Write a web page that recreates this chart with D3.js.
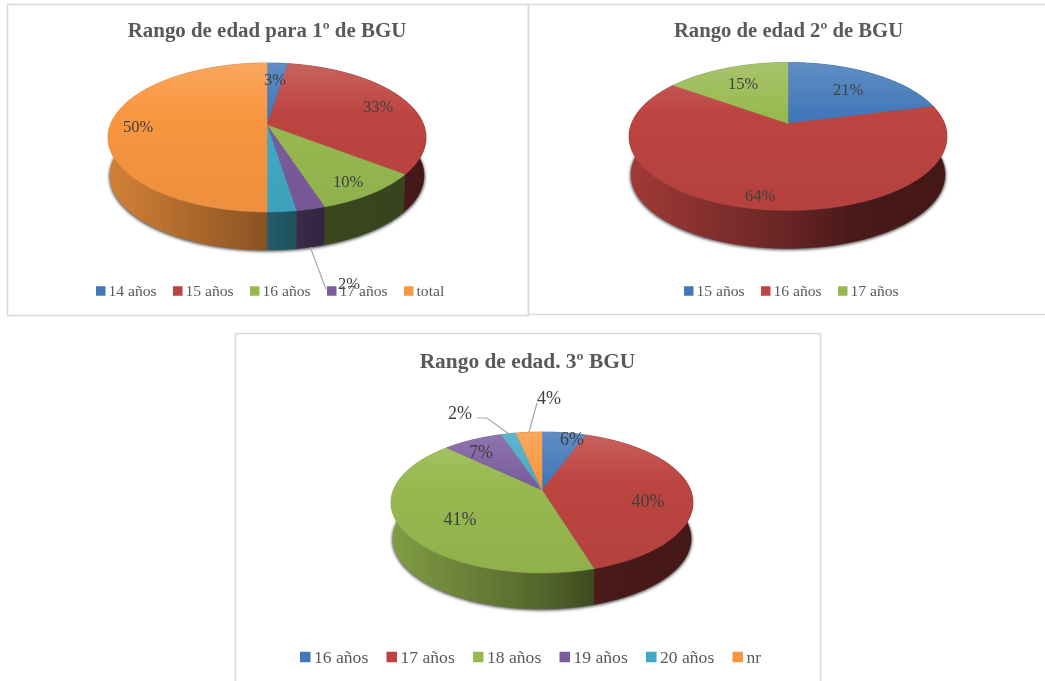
<!DOCTYPE html>
<html><head><meta charset="utf-8">
<script src="https://cdn.jsdelivr.net/npm/d3@7"></script>
<style>html,body{margin:0;padding:0;background:#fff;overflow:hidden}svg{display:block;filter:blur(.45px)}</style>
</head><body><svg id="c" width="1045" height="681"></svg>
<script>
// ---- data ----
const categories1 = ["14 años","15 años","16 años","17 años","","total"];
const values1 = [2.5,33,9.5,2.5,2.5,50];
const labels1 = ["3%","33%","10%","2%","","50%"];
const colors1 = ["blue","red","green","purple","cyan","orange"];
const categories2 = ["15 años","16 años","17 años"];
const values2 = [21,64,15];
const labels2 = ["21%","64%","15%"];
const colors2 = ["blue","red","green"];
const categories3 = ["16 años","17 años","18 años","19 años","20 años","nr"];
const values3 = [5.6,39.7,41.9,7.6,1.9,3.3];
const labels3 = ["6%","40%","41%","7%","2%","4%"];
const colors3 = ["blue","red","green","purple","cyan","orange"];

// ---- styling / layout ----
const base = {blue:"#4278b9",red:"#bd4441",green:"#98b950",purple:"#7b5c9e",cyan:"#42a9c5",orange:"#f99640"};
const charts = [
 {title:"Rango de edad para 1º de BGU",cats:categories1,vals:values1,labs:labels1,cols:colors1,
  box:[7,4,521,311],titleX:267,titleY:37,titleFs:20.9,apex:[267,125],rx:159,up:62,down:87,depth:38,
  labelOff:[[8,-46],[111,-19],[81,56],[82,158],null,[-129,1]],
  leaders:[{i:3,sunk:true,to:[[59,164]]}],
  legend:{x:96,y:291,step:77,fs:15.6,sw:9.5,gap:12.5}},
 {title:"Rango de edad 2º de BGU",cats:categories2,vals:values2,labs:labels2,cols:colors2,
  box:[528,4,530,310],titleX:788.5,titleY:37,titleFs:20.7,apex:[788,123.5],rx:159,up:61,down:87,depth:38,
  labelOff:[[60,-34.5],[-28,71.5],[-45,-40.5]],leaders:[],
  legend:{x:684,y:291,step:77,fs:15.6,sw:9.5,gap:12.5}},
 {title:"Rango de edad. 3º BGU",cats:categories3,vals:values3,labs:labels3,cols:colors3,
  box:[235,333,585,360],titleX:527.5,titleY:368,titleFs:21.4,apex:[542,490],rx:151,up:58,down:83,depth:36,
  labelOff:[[30,-51],[106,11],[-82,29],[-61,-38],[-82,-77],[7,-92]],
  leaders:[{i:4,to:[[-55,-72],[-65,-72]]},{i:5,to:[[-5,-87]]}],
  legend:{x:300,y:657,step:86.5,fs:17.6,sw:10.5,gap:14}}
];
const FONT = "'Liberation Serif','DejaVu Serif',serif";
const svg = d3.select("#c");
const defs = svg.append("defs");
defs.append("filter").attr("id","soft").attr("x","-10%").attr("y","-10%").attr("width","120%").attr("height","120%")
  .append("feGaussianBlur").attr("stdDeviation",1.6);
svg.append("rect").attr("width",1045).attr("height",681).attr("fill","#fff");
const line = d3.line();
const mul = (c,f)=>{const q=d3.rgb(c);return d3.rgb(q.r*f,q.g*f,q.b*f).formatHex();};

charts.forEach((ch,ci)=>{
  const g = svg.append("g");
  g.append("rect").attr("x",ch.box[0]+.5).attr("y",ch.box[1]+.5).attr("width",ch.box[2]).attr("height",ch.box[3])
    .attr("fill","#fff").attr("stroke","#d9d9d9").attr("stroke-width",1.5);
  g.append("text").attr("x",ch.titleX).attr("y",ch.titleY).attr("text-anchor","middle")
    .attr("font-family",FONT).attr("font-weight","bold").attr("font-size",ch.titleFs).attr("fill","#595959").text(ch.title);

  // perspective projection of the unit disc: the apex sits above the ellipse centre
  const k = (ch.down-ch.up)/(ch.down+ch.up);
  const B = ch.up*(1+k), A = ch.rx*Math.sqrt(1-k*k);
  const [ax,ay] = ch.apex;
  const proj = (t,f=1)=>{const X=f*Math.sin(t),Y=-f*Math.cos(t),w=1-k*Y;return [ax+A*X/w,ay+B*Y/w];};
  const arcs = d3.pie().sort(null).value(d=>d)(ch.vals);
  const samples = a=>{const n=Math.max(2,Math.ceil((a.endAngle-a.startAngle)/0.02));
    return d3.range(n+1).map(i=>a.startAngle+(a.endAngle-a.startAngle)*i/n);};
  const full = d3.range(0,2*Math.PI,0.02);
  const sink = p=>[p[0]+(ax-p[0])*0.012,p[1]+ch.depth];

  // gradients
  const xs = d3.scaleLinear().domain([0,1]).range([ax-ch.rx,ax+ch.rx]);
  ch.cols.forEach(c=>{
    const gs = defs.append("linearGradient").attr("id",`s${ci}${c}`).attr("gradientUnits","userSpaceOnUse")
      .attr("x1",xs(0)).attr("x2",xs(1)).attr("y1",0).attr("y2",0);
    [[0,.85],[.5,.55],[.7,.38],[1,.36]].forEach(([o,f])=>gs.append("stop").attr("offset",o).attr("stop-color",mul(base[c],f)));
    const gt = defs.append("linearGradient").attr("id",`t${ci}${c}`).attr("gradientUnits","userSpaceOnUse")
      .attr("x1",0).attr("x2",0).attr("y1",ay-ch.up).attr("y2",ay+ch.down);
    const q=d3.rgb(base[c]);
    gt.append("stop").attr("offset",0).attr("stop-color",d3.interpolateRgb(q,"#fff")(.16));
    gt.append("stop").attr("offset",.35).attr("stop-color",q.formatHex());
    gt.append("stop").attr("offset",1).attr("stop-color",mul(base[c],.95));
  });

  // shadow
  g.append("path").attr("d",line(full.map(t=>sink(proj(t,1.005)))) +"Z").attr("fill","#555").attr("filter","url(#soft)")
    .attr("transform","translate(0,1)");
  // sides
  arcs.forEach((a,i)=>{
    const top = samples(a).map(t=>proj(t));
    const bot = top.map(sink).reverse();
    g.append("path").attr("d",line(top.concat(bot))+"Z").attr("fill",`url(#s${ci}${ch.cols[i]})`).attr("stroke",`url(#s${ci}${ch.cols[i]})`).attr("stroke-width",.4);
  });
  // top faces
  arcs.forEach((a,i)=>{
    const pts = [ch.apex].concat(samples(a).map(t=>proj(t)));
    g.append("path").attr("d",line(pts)+"Z").attr("fill",`url(#t${ci}${ch.cols[i]})`).attr("stroke",`url(#t${ci}${ch.cols[i]})`).attr("stroke-width",.4);
  });
  // leader lines
  ch.leaders.forEach(l=>{
    const a = arcs[l.i], mid=(a.startAngle+a.endAngle)/2;
    let s = proj(mid); if(l.sunk) s = sink(s);
    const pts=[s].concat(l.to.map(o=>[ax+o[0],ay+o[1]]));
    g.append("path").attr("d",line(pts)).attr("fill","none").attr("stroke","#a6a6a6").attr("stroke-width",1.2);
  });
  // data labels
  ch.labs.forEach((t,i)=>{ if(!t) return; const o=ch.labelOff[i];
    g.append("text").attr("x",ax+o[0]).attr("y",ay+o[1]).attr("dy",".34em").attr("text-anchor","middle")
      .attr("font-family",FONT).attr("font-size",ci==2?18:16.5).attr("fill","#404040").text(t);
  });
  // legend
  const L = ch.legend;
  ch.cats.filter(c=>c).forEach((c,j)=>{
    const col = ch.cols[ch.cats.indexOf(c)], x=L.x+j*L.step;
    g.append("rect").attr("x",x).attr("y",L.y-L.sw/2).attr("width",L.sw).attr("height",L.sw).attr("fill",base[col]);
    g.append("text").attr("x",x+L.gap).attr("y",L.y).attr("dy",".33em").attr("font-family",FONT)
      .attr("font-size",L.fs).attr("fill","#595959").text(c);
  });
});
</script></body></html>
